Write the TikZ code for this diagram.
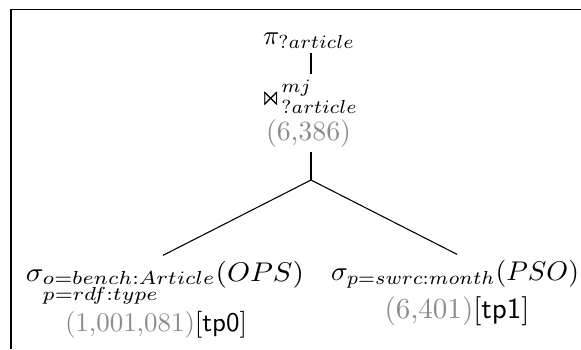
\documentclass[tikz,border=0pt]{standalone}
\usepackage{amssymb}
\usepackage{amsmath}
\usepackage{graphicx}
\newcommand{\fitw}[2]{\resizebox{#1\dimexpr 0.37pt\relax}{\height}{#2}}
\newcommand{\fitu}[2]{\resizebox{#1\dimexpr 0.37pt\relax}{!}{#2}}
\begin{document}
\begin{tikzpicture}[x=0.37pt,y=-0.37pt,
  lbl/.style={anchor=base,inner sep=0pt,outer sep=2pt},
  edge/.style={line width=0.4pt}]
\colorlet{numgray}{black!45}
\useasboundingbox (0,0) rectangle (581,349);
\draw[line width=0.5pt] (11,349) -- (11,9.5) -- (581,9.5);
\node[lbl] (proj) at (309,44) {\fitw{92}{$\pi_{?article}$}};
\node[lbl] (join) at (309,105) {\fitw{98}{$\Join^{mj}_{?article}$}};
\node[lbl] (jn) at (308.5,140) {\fitu{85}{\textcolor{numgray}{(6,386)}}};
\coordinate (br) at (311,180);
\node[lbl] (l1) at (165,281) {\fitw{278}{$\sigma_{\begin{subarray}{l}o=bench:Article\\ p=rdf:type\end{subarray}}(OPS)$}};
\node[lbl] (l2) at (156,331) {\fitu{182}{\textcolor{numgray}{(1,001,081)}[\textsf{tp0}]}};
\node[lbl] (r1) at (455,280) {\fitw{248}{$\sigma_{p=swrc:month}(PSO)$}};
\node[lbl] (r2) at (457,318) {\fitu{145}{\textcolor{numgray}{(6,401)}[\textsf{tp1}]}};
\draw[edge] (proj.south -| br) -- (join.north -| br);
\draw[edge] (jn.south -| br) -- (br);
\draw[edge] (br) -- (163,257 |- l1.north);
\draw[edge] (br) -- (457,257 |- r1.north);
\end{tikzpicture}
\end{document}
